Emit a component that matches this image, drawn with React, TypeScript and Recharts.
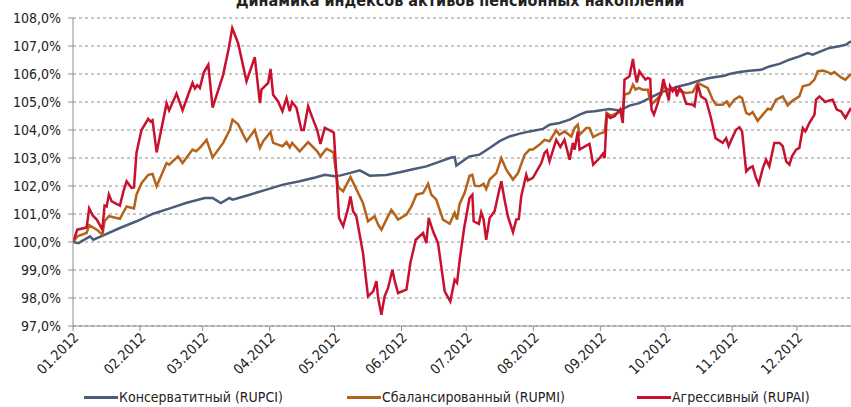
import React from "react";
import {
  CartesianGrid,
  Legend,
  Line,
  LineChart,
  XAxis,
  YAxis,
} from "recharts";

// day of year 2012 -> index value, %
const monthTicks = [0, 31, 60, 91, 121, 152, 182, 213, 244, 274, 305, 335];
const monthLabels = [
  "01.2012", "02.2012", "03.2012", "04.2012", "05.2012", "06.2012",
  "07.2012", "08.2012", "09.2012", "10.2012", "11.2012", "12.2012",
];
const yTicks = [97, 98, 99, 100, 101, 102, 103, 104, 105, 106, 107, 108];

const seriesNames = [
  "Консерватитный (RUPCI)",
  "Сбалансированный (RUPMI)",
  "Агрессивный (RUPAI)",
];

const rupciDays = [
  0, 2.5, 7.9, 9.4, 14, 21.7, 29.4, 37.1, 44.8, 52.6, 61, 64.6, 68.4, 72.4,
  73.9, 81.8, 89.5, 97.2, 104.9, 112.6, 116.5, 121.1, 123.4, 128, 132.7,
  137.3, 145, 151.2, 157.3, 163.5, 169.7, 174.3, 176.6, 177.4, 181.2, 183.5,
  188.1, 192.8, 197.4, 202, 206.7, 211.3, 217.5, 220.5, 225.1, 229.8, 234.4,
  237.5, 241.3, 248.3, 253, 257.5, 262.1, 266.8, 271.4, 276, 280.6, 285.3,
  289.9, 294.5, 301.4, 303.7, 308.4, 313, 318.4, 322.2, 326.9, 331.5, 336.1,
  340, 342.3, 345.4, 350, 354.6, 357.7, 360,
];
const rupciValues = [
  100, 99.96, 100.2, 100.08, 100.24, 100.5, 100.74, 101.01, 101.2, 101.4,
  101.57, 101.57, 101.39, 101.57, 101.51, 101.69, 101.87, 102.05, 102.17,
  102.31, 102.4, 102.35, 102.37, 102.46, 102.56, 102.37, 102.39, 102.49,
  102.6, 102.7, 102.87, 103.0, 103.04, 102.73, 102.94, 103.06, 103.12,
  103.36, 103.6, 103.77, 103.87, 103.95, 104.04, 104.19, 104.25, 104.37,
  104.55, 104.64, 104.67, 104.75, 104.7, 104.87, 104.96, 105.14, 105.32,
  105.46, 105.56, 105.65, 105.77, 105.86, 105.94, 106.0, 106.07, 106.12,
  106.15, 106.27, 106.36, 106.51, 106.63, 106.75, 106.69, 106.79, 106.93,
  106.99, 107.05, 107.17,
];

const rupmiDays = [
  0, 2, 6.3, 7.5, 11, 13.6, 14.6, 16.6, 21.7, 24.8, 28.2, 29.4, 31.7, 34.8,
  36.8, 38.7, 43.3, 44.5, 48.6, 50.7, 55.3, 56.9, 58.7, 61, 61.8, 64.6, 69.5,
  72.5, 73.8, 76.4, 80.3, 84.1, 86.5, 88, 91.4, 92.6, 96.9, 98.8, 100.3,
  101.4, 104.9, 108.8, 113, 114.5, 117.3, 120.5, 122.7, 125, 128.4, 131.1,
  134.2, 136.5, 139.6, 141.2, 142.7, 145, 147.3, 148.9, 150.4, 154.3, 156.6,
  158.9, 162, 164.3, 165.8, 168.1, 171.2, 174.3, 176.6, 177.7, 178.9, 181.2,
  183.5, 184.8, 185.9, 188.1, 190, 191.2, 192.8, 195.9, 198.2, 200.5, 203.6,
  205.9, 209, 211.3, 212.8, 215.9, 218.2, 220.5, 223.6, 225.1, 227.4, 230.6,
  232.1, 233.6, 234.4, 237.5, 239, 240.7, 243.7, 246, 247, 249, 252.1, 253.6,
  254.4, 255.2, 257.5, 259.1, 260.3, 261.8, 263.7, 266, 267.5, 269.9, 272.2,
  273.2, 275.2, 277.5, 280.6, 283.7, 286.8, 289.1, 292.2, 293.7, 296, 297.6,
  300.6, 302.5, 303.7, 306, 308.4, 309.6, 311.5, 313, 314.5, 316.8, 319.2,
  321.5, 323, 325.3, 328.4, 330.7, 333, 336.1, 337.7, 340.7, 343.1, 344.6,
  346.9, 349.2, 350.7, 352.3, 355.4, 357.4, 360,
];
const rupmiValues = [
  100, 100.2, 100.32, 100.6, 100.44, 100.26, 100.74, 100.92, 100.83, 101.27,
  101.2, 101.7, 102.1, 102.4, 102.43, 101.99, 102.82, 102.76, 103.06, 102.82,
  103.3, 103.24, 103.36, 103.57, 103.65, 103.02, 103.54, 104.0, 104.37,
  104.2, 103.6, 104.0, 103.36, 103.6, 103.93, 103.54, 103.42, 103.57, 103.38,
  103.54, 103.24, 103.57, 103.24, 103.06, 103.33, 103.2, 101.96, 101.81,
  102.32, 101.89, 101.39, 100.74, 100.92, 100.62, 100.44, 100.8, 101.15,
  100.98, 100.8, 100.98, 101.27, 101.69, 101.75, 102.08, 101.69, 101.51,
  100.8, 100.65, 101.04, 100.8, 101.36, 101.75, 102.37, 102.4, 102.01,
  101.99, 102.08, 101.89, 102.23, 102.46, 103.0, 102.58, 102.23, 102.46,
  103.12, 103.3, 103.3, 103.48, 103.65, 103.6, 103.99, 103.83, 103.95,
  103.77, 104.07, 104.19, 103.83, 104.07, 104.07, 103.75, 103.87, 103.92,
  104.61, 104.51, 104.61, 104.67, 104.61, 105.26, 105.32, 105.62, 105.44,
  105.5, 105.44, 105.44, 104.9, 105.08, 105.26, 105.58, 105.44, 105.46,
  105.38, 105.32, 105.35, 105.68, 105.56, 105.5, 105.08, 104.9, 104.9,
  105.02, 104.85, 105.08, 105.2, 105.14, 104.61, 104.55, 104.64, 104.33,
  104.55, 104.76, 104.73, 105.08, 105.2, 104.88, 105.05, 105.2, 105.56,
  105.62, 105.8, 106.1, 106.12, 106.07, 106.0, 106.07, 105.88, 105.8, 106.0,
];

const rupaiDays = [
  0, 2, 6.3, 7.5, 9.1, 11, 13.6, 14.6, 15.6, 16.6, 17.9, 21.7, 23.3, 24.8,
  27.1, 28.2, 29.4, 31.7, 34.8, 35.9, 36.8, 38.7, 43.3, 44.5, 47.9, 50.7,
  53.3, 55.3, 56.4, 57.5, 58.7, 60.5, 62.6, 64.6, 69.5, 72.1, 73.7, 76.4,
  80.3, 84.1, 86.5, 87.2, 90.3, 91.4, 92.6, 94.9, 96.9, 98.8, 100.3, 101.4,
  103.4, 105.7, 106.8, 108.8, 111.1, 113, 114.5, 116.5, 118.8, 120.7, 123.1,
  125, 127.3, 128.4, 129.6, 131.1, 134.2, 136.5, 138.9, 140.4, 141.2, 142.7,
  144.2, 145.8, 147.8, 148.9, 150.4, 154.3, 156.1, 158.6, 162, 163.5, 164.6,
  166.6, 168.9, 172, 174.6, 176.6, 177.7, 179, 181, 183.5, 184.8, 185.4,
  187.8, 188.9, 190, 191.2, 192.8, 195.1, 197.1, 198.2, 199.7, 201.2, 203.6,
  205.1, 206.3, 207.4, 209.7, 210.5, 212.8, 216.7, 218.2, 219.3, 220.5,
  223.6, 225.5, 227.4, 229.8, 231.3, 232.1, 233.6, 234.4, 237.5, 239, 240.7,
  243.7, 245.2, 246, 247, 248.6, 250.6, 251.7, 252.6, 253.2, 254.4, 255.2,
  257.5, 259.1, 259.8, 260.9, 262.1, 263.7, 264.9, 266, 267.1, 267.7, 268.8,
  270.6, 272.2, 273.2, 274.8, 275.7, 276.3, 277.5, 278.8, 279.4, 280.6,
  281.9, 283.7, 286.8, 287.6, 289.1, 290.6, 292.9, 295.2, 297.3, 300.6,
  302.2, 303.4, 305, 306.8, 308.4, 309.6, 311.5, 313, 314.5, 316, 317.3,
  319.2, 320.7, 322.2, 324.5, 326.9, 328.4, 330, 331.5, 332.7, 334.6, 336.1,
  337.7, 338.9, 340.7, 343.1, 343.8, 345.4, 348.1, 349.7, 351.5, 353.4,
  355.4, 357.4, 360,
];
const rupaiValues = [
  100, 100.44, 100.52, 101.2, 100.95, 100.8, 100.44, 101.3, 101.27, 101.7,
  101.45, 101.3, 101.8, 102.17, 101.93, 101.95, 103.2, 104.0, 104.4, 104.3,
  104.35, 103.2, 104.95, 104.7, 105.3, 104.7, 105.26, 105.68, 105.48, 105.6,
  105.5, 106.05, 106.33, 104.8, 105.98, 106.93, 107.64, 107.1, 105.74, 106.6,
  104.96, 105.44, 105.68, 106.18, 105.26, 105.02, 104.67, 105.14, 104.67,
  105.0, 104.79, 104.0, 104.0, 104.85, 104.37, 104.0, 103.5, 104.08, 103.99,
  103.9, 100.86, 100.56, 101.21, 101.63, 101.1, 100.92, 99.6, 98.06, 98.24,
  98.6, 98.0, 97.4, 98.06, 98.36, 99.01, 98.6, 98.18, 98.3, 99.25, 100.08,
  100.32, 99.96, 100.86, 100.38, 99.96, 98.24, 97.88, 98.65, 98.54, 99.4,
  100.5, 101.57, 101.69, 100.74, 100.65, 101.06, 100.8, 100.08, 100.86,
  101.1, 101.81, 102.17, 101.51, 100.92, 100.35, 100.8, 100.82, 101.63,
  102.4, 102.2, 102.29, 102.82, 103.18, 103.27, 102.88, 103.65, 103.39,
  103.65, 102.94, 103.54, 103.3, 103.95, 103.3, 103.44, 103.5, 102.76, 103.0,
  103.15, 103.0, 104.55, 104.43, 104.49, 104.6, 104.67, 104.73, 104.25,
  105.8, 105.92, 106.54, 106.15, 105.7, 106.1, 105.92, 105.8, 105.86, 105.82,
  104.73, 104.55, 104.96, 105.38, 105.82, 105.32, 105.06, 105.56, 105.38,
  105.5, 105.2, 105.5, 105.38, 104.94, 104.9, 104.85, 105.62, 105.2, 105.08,
  104.43, 103.71, 103.54, 103.71, 103.42, 103.71, 104.01, 104.1, 103.95,
  102.52, 102.64, 102.7, 102.29, 102.07, 102.64, 102.94, 102.7, 103.54,
  103.54, 103.42, 102.88, 102.76, 103.06, 103.3, 103.36, 104.07, 103.95,
  104.25, 104.55, 105.08, 105.2, 105.0, 105.05, 105.08, 104.73, 104.67,
  104.43, 104.79,
];

const colors = ["#4c5a7b", "#b5621a", "#c8102f"];

const toPoints = (days: number[], values: number[]) =>
  days.map((day, i) => ({ day, v: values[i] }));

const series = [
  toPoints(rupciDays, rupciValues),
  toPoints(rupmiDays, rupmiValues),
  toPoints(rupaiDays, rupaiValues),
];

const FONT = "'DejaVu Sans Condensed', 'DejaVu Sans', sans-serif";

const MonthTick = (props: any) => {
  const { x, y, payload } = props;
  const label = monthLabels[monthTicks.indexOf(payload.value)];
  return (
    <g transform={`translate(${x + 3},${y})`}>
      <text
        x={0}
        y={0}
        dy={5}
        textAnchor="end"
        transform="rotate(-45)"
        fontSize={14}
        fontFamily={FONT}
        fill="#222"
      >
        {label}
      </text>
    </g>
  );
};

const legendLeft = [84, 347, 637];

const LegendContent = () => (
  <div style={{ position: "relative", width: 851, height: 20 }}>
    {seriesNames.map((name, i) => (
      <div
        key={name}
        style={{
          position: "absolute",
          left: legendLeft[i],
          top: 0,
          height: 20,
          display: "flex",
          alignItems: "center",
          fontFamily: FONT,
          fontSize: 14,
          color: "#222",
          whiteSpace: "nowrap",
        }}
      >
        <span
          style={{
            display: "inline-block",
            width: 34,
            height: 3,
            background: colors[i],
            marginRight: 1,
          }}
        />
        {name}
      </div>
    ))}
  </div>
);

export default function App() {
  return (
    <div
      style={{
        position: "absolute",
        left: 0,
        top: 0,
        width: 851,
        height: 407,
        overflow: "hidden",
        background: "#fff",
      }}
    >
      <LineChart
        width={851}
        height={407}
        margin={{ top: 18, right: 0, bottom: 0, left: 0 }}
      >
        <text
          x={460}
          y={6}
          textAnchor="middle"
          fontFamily={FONT}
          fontWeight="bold"
          fontSize={16}
          fill="#222"
        >
          Динамика индексов активов пенсионных накоплений
        </text>
        <CartesianGrid
          vertical={false}
          stroke="#8f8f8f"
          strokeDasharray="3 3"
        />
        <XAxis
          dataKey="day"
          type="number"
          domain={[0, 360]}
          ticks={monthTicks}
          interval={0}
          allowDataOverflow
          height={61}
          tickSize={5}
          tickMargin={4}
          stroke="#8f8f8f"
          tick={<MonthTick />}
        />
        <YAxis
          type="number"
          domain={[97, 108]}
          ticks={yTicks}
          interval={0}
          width={73}
          tickSize={5}
          tickMargin={7}
          stroke="#8f8f8f"
          tick={{ fontSize: 14, fontFamily: FONT, fill: "#222" }}
          tickFormatter={(v: number) => `${v.toFixed(1).replace(".", ",")}%`}
        />
        <Legend
          verticalAlign="bottom"
          content={<LegendContent />}
          wrapperStyle={{ left: 0, bottom: 0, width: 851, height: 20 }}
        />
        {series.map((data, i) => (
          <Line
            key={seriesNames[i]}
            data={data}
            dataKey="v"
            name={seriesNames[i]}
            type="linear"
            stroke={colors[i]}
            strokeWidth={2.5}
            dot={false}
            isAnimationActive={false}
          />
        ))}
      </LineChart>
    </div>
  );
}
